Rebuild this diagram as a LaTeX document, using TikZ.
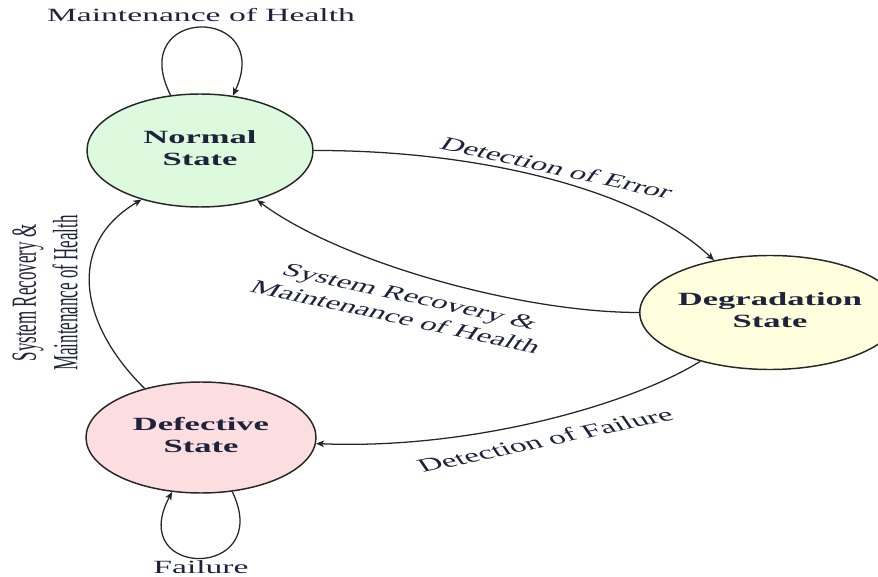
\documentclass[tikz,border=0pt]{standalone}
\usepackage{graphicx}
\usepackage{fontspec}
\setmainfont{Liberation Serif}
\usetikzlibrary{shapes.geometric,arrows.meta}
\definecolor{txt}{RGB}{30,35,60}
\definecolor{ngreen}{RGB}{222,250,222}
\definecolor{dpink}{RGB}{252,222,224}
\definecolor{gyellow}{RGB}{255,255,222}
\newcommand\stxt[1]{\scalebox{1.85}[1]{\begin{tabular}{@{}c@{}}#1\end{tabular}}}
\begin{document}
\begin{tikzpicture}[x=0.75pt,y=-0.75pt,
  state/.style={ellipse, draw=black!85, line width=1.1pt, inner sep=0pt,
    text=txt, font=\fontsize{14}{16.5}\selectfont\bfseries},
  conn/.style={draw=black!85, line width=0.95pt, -{Stealth[length=6pt,width=5pt,inset=1.5pt]}},
  lbl/.style={text=txt, font=\fontsize{14}{16.5}\selectfont, align=center, inner sep=0pt}
]
\useasboundingbox (0,0) rectangle (878,577);

% states
\node[state, fill=ngreen, minimum width=169.5pt, minimum height=84.75pt] (N) at (200,150.5) {\stxt{Normal\\State}};
\node[state, fill=dpink, minimum width=172.5pt, minimum height=83.25pt] (Def) at (201,437.5) {\stxt{Defective\\State}};
\node[state, fill=gyellow, minimum width=168pt, minimum height=85.5pt] (Deg) at (770,312.5) {\stxt{Degradation\\State}};

% connectors
\draw[conn] (N.118) .. controls (125,5) and (275,5) .. (N.59);
\draw[conn] (Def.300) .. controls (275,580) and (125,580) .. (Def.242);
\draw[conn] (N.east) .. controls (480,150) and (640,190) .. (Deg.137.5);
\draw[conn] (Deg.west) .. controls (520,312.5) and (340,262) .. (N.-41);
\draw[conn] (Deg.215) .. controls (630,405) and (470,450) .. (Def.-3);
\draw[conn] (Def.139) .. controls (80,325) and (65,245) .. (N.220.5);

% labels
\node[lbl, xscale=1.8, anchor=base] (top) at (201,22) {Maintenance of Health};
\node[lbl, xscale=1.8, anchor=base] (fail) at (201,573) {Failure};
\node[lbl, cm={1.674,-0.368,0.662,0.930,(0,0)}] (err) at (557,168) {Detection of Error};
\node[lbl, cm={1.675,-0.3665,0.660,0.930,(0,0)}] (rec) at (403,306.5) {System Recovery \&\\Maintenance of Health};
\node[lbl, cm={1.680,0.358,-0.645,0.934,(0,0)}] (dfail) at (545,440) {Detection of Failure};
\node[lbl, cm={0,0.91,-1.89,0,(0,0)}] (left) at (45,293) {System Recovery \&\\Maintenance of Health};
\end{tikzpicture}
\end{document}
